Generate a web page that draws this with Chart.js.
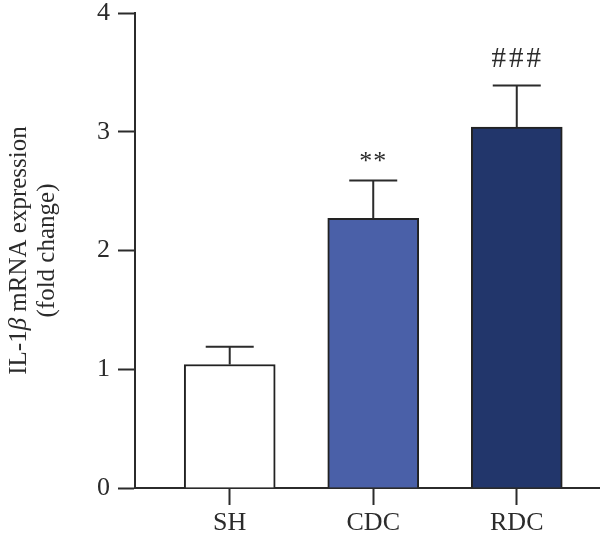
<!DOCTYPE html>
<html>
<head>
<meta charset="utf-8">
<script src="https://cdn.jsdelivr.net/npm/chart.js@4"></script>
<style>
  body { margin: 0; background: #fff; }
  #wrap { width: 600px; height: 544px; }
</style>
</head>
<body>
<div id="wrap"><canvas id="chart"></canvas></div>
<script>
var groups = ['SH', 'CDC', 'RDC'];
var means = [1.04, 2.27, 3.04];
var errors = [0.15, 0.32, 0.35];
var marks = ['', '**', '###'];
var yTicks = [0, 1, 2, 3, 4];
var fills = ['#ffffff', '#4a60a8', '#22366b'];

var serif = "'Times New Roman', 'Liberation Serif', Times, serif";
var ink = '#2b2b2b';

// upper error bars + significance marks
var extras = {
    id: 'extras',
    afterDatasetsDraw(chart) {
        var ctx = chart.ctx;
        var xs = chart.scales.x, ys = chart.scales.y;
        ctx.save();
        ctx.strokeStyle = ink;
        ctx.lineWidth = 2;
        for (var i = 0; i < means.length; i++) {
            var x = xs.getPixelForValue(i);
            var y0 = ys.getPixelForValue(means[i]);
            var y1 = ys.getPixelForValue(means[i] + errors[i]);
            ctx.beginPath();
            ctx.moveTo(x, y0);
            ctx.lineTo(x, y1);
            ctx.moveTo(x - 24, y1);
            ctx.lineTo(x + 24, y1);
            ctx.stroke();
            if (marks[i]) {
                ctx.fillStyle = ink;
                ctx.textAlign = 'center';
                ctx.textBaseline = 'alphabetic';
                if (marks[i] === '**') {
                    ctx.font = '26px ' + serif;
                    ctx.letterSpacing = '1px';
                    ctx.fillText(marks[i], x, y1 - 11);
                } else {
                    ctx.font = '29px ' + serif;
                    ctx.letterSpacing = '3px';
                    ctx.fillText(marks[i], x + 1, y1 - 18);
                }
                ctx.letterSpacing = '0px';
            }
        }
        // y axis title with italic beta
        var cy = (chart.chartArea.top + chart.chartArea.bottom) / 2;
        ctx.translate(0, cy);
        ctx.rotate(-Math.PI / 2);
        ctx.fillStyle = ink;
        ctx.textBaseline = 'middle';
        var parts = [['IL-1', ''], ['\u03b2', 'italic '], [' mRNA expression', '']];
        var total = 0;
        parts.forEach(function (p) {
            ctx.font = p[1] + '25px ' + serif;
            total += ctx.measureText(p[0]).width;
        });
        var px = -total / 2;
        ctx.textAlign = 'left';
        parts.forEach(function (p) {
            ctx.font = p[1] + '25px ' + serif;
            ctx.fillText(p[0], px, 19);
            px += ctx.measureText(p[0]).width;
        });
        ctx.font = '25px ' + serif;
        ctx.textAlign = 'center';
        ctx.fillText('(fold change)', 0, 47);
        ctx.restore();
    }
};

new Chart(document.getElementById('chart'), {
    type: 'bar',
    data: {
        datasets: [{
            data: means.map(function (v, i) { return { x: i, y: v }; }),
            backgroundColor: fills,
            borderColor: '#222',
            borderWidth: 2,
            barThickness: 91
        }]
    },
    options: {
        responsive: true,
        maintainAspectRatio: false,
        animation: false,
        layout: { padding: { top: 13, right: 0, left: 0, bottom: 0 } },
        plugins: { legend: { display: false }, tooltip: { enabled: false } },
        scales: {
            x: {
                type: 'linear',
                offset: false,
                min: -0.66,
                max: 2.58,
                afterBuildTicks: function (s) { s.ticks = groups.map(function (g, i) { return { value: i }; }); },
                afterFit: function (s) { s.height = 56; s.paddingLeft = 0; s.paddingRight = 0; },
                ticks: {
                    callback: function (v) { return groups[v]; },
                    font: { family: serif, size: 26 },
                    color: ink,
                    padding: 3,
                    maxRotation: 0
                },
                grid: { offset: false, drawOnChartArea: false, tickLength: 17, tickColor: ink, tickWidth: 2 },
                border: { color: ink, width: 2 }
            },
            y: {
                min: 0,
                max: 4,
                afterBuildTicks: function (s) { s.ticks = yTicks.map(function (v) { return { value: v }; }); },
                afterFit: function (s) { s.width = 135; s.paddingTop = 0; s.paddingBottom = 0; },
                ticks: {
                    font: { family: serif, size: 26 },
                    color: ink,
                    padding: 8
                },
                grid: { drawOnChartArea: false, tickLength: 17, tickColor: ink, tickWidth: 2 },
                border: { color: ink, width: 2 }
            }
        }
    },
    plugins: [extras]
});
</script>
</body>
</html>
